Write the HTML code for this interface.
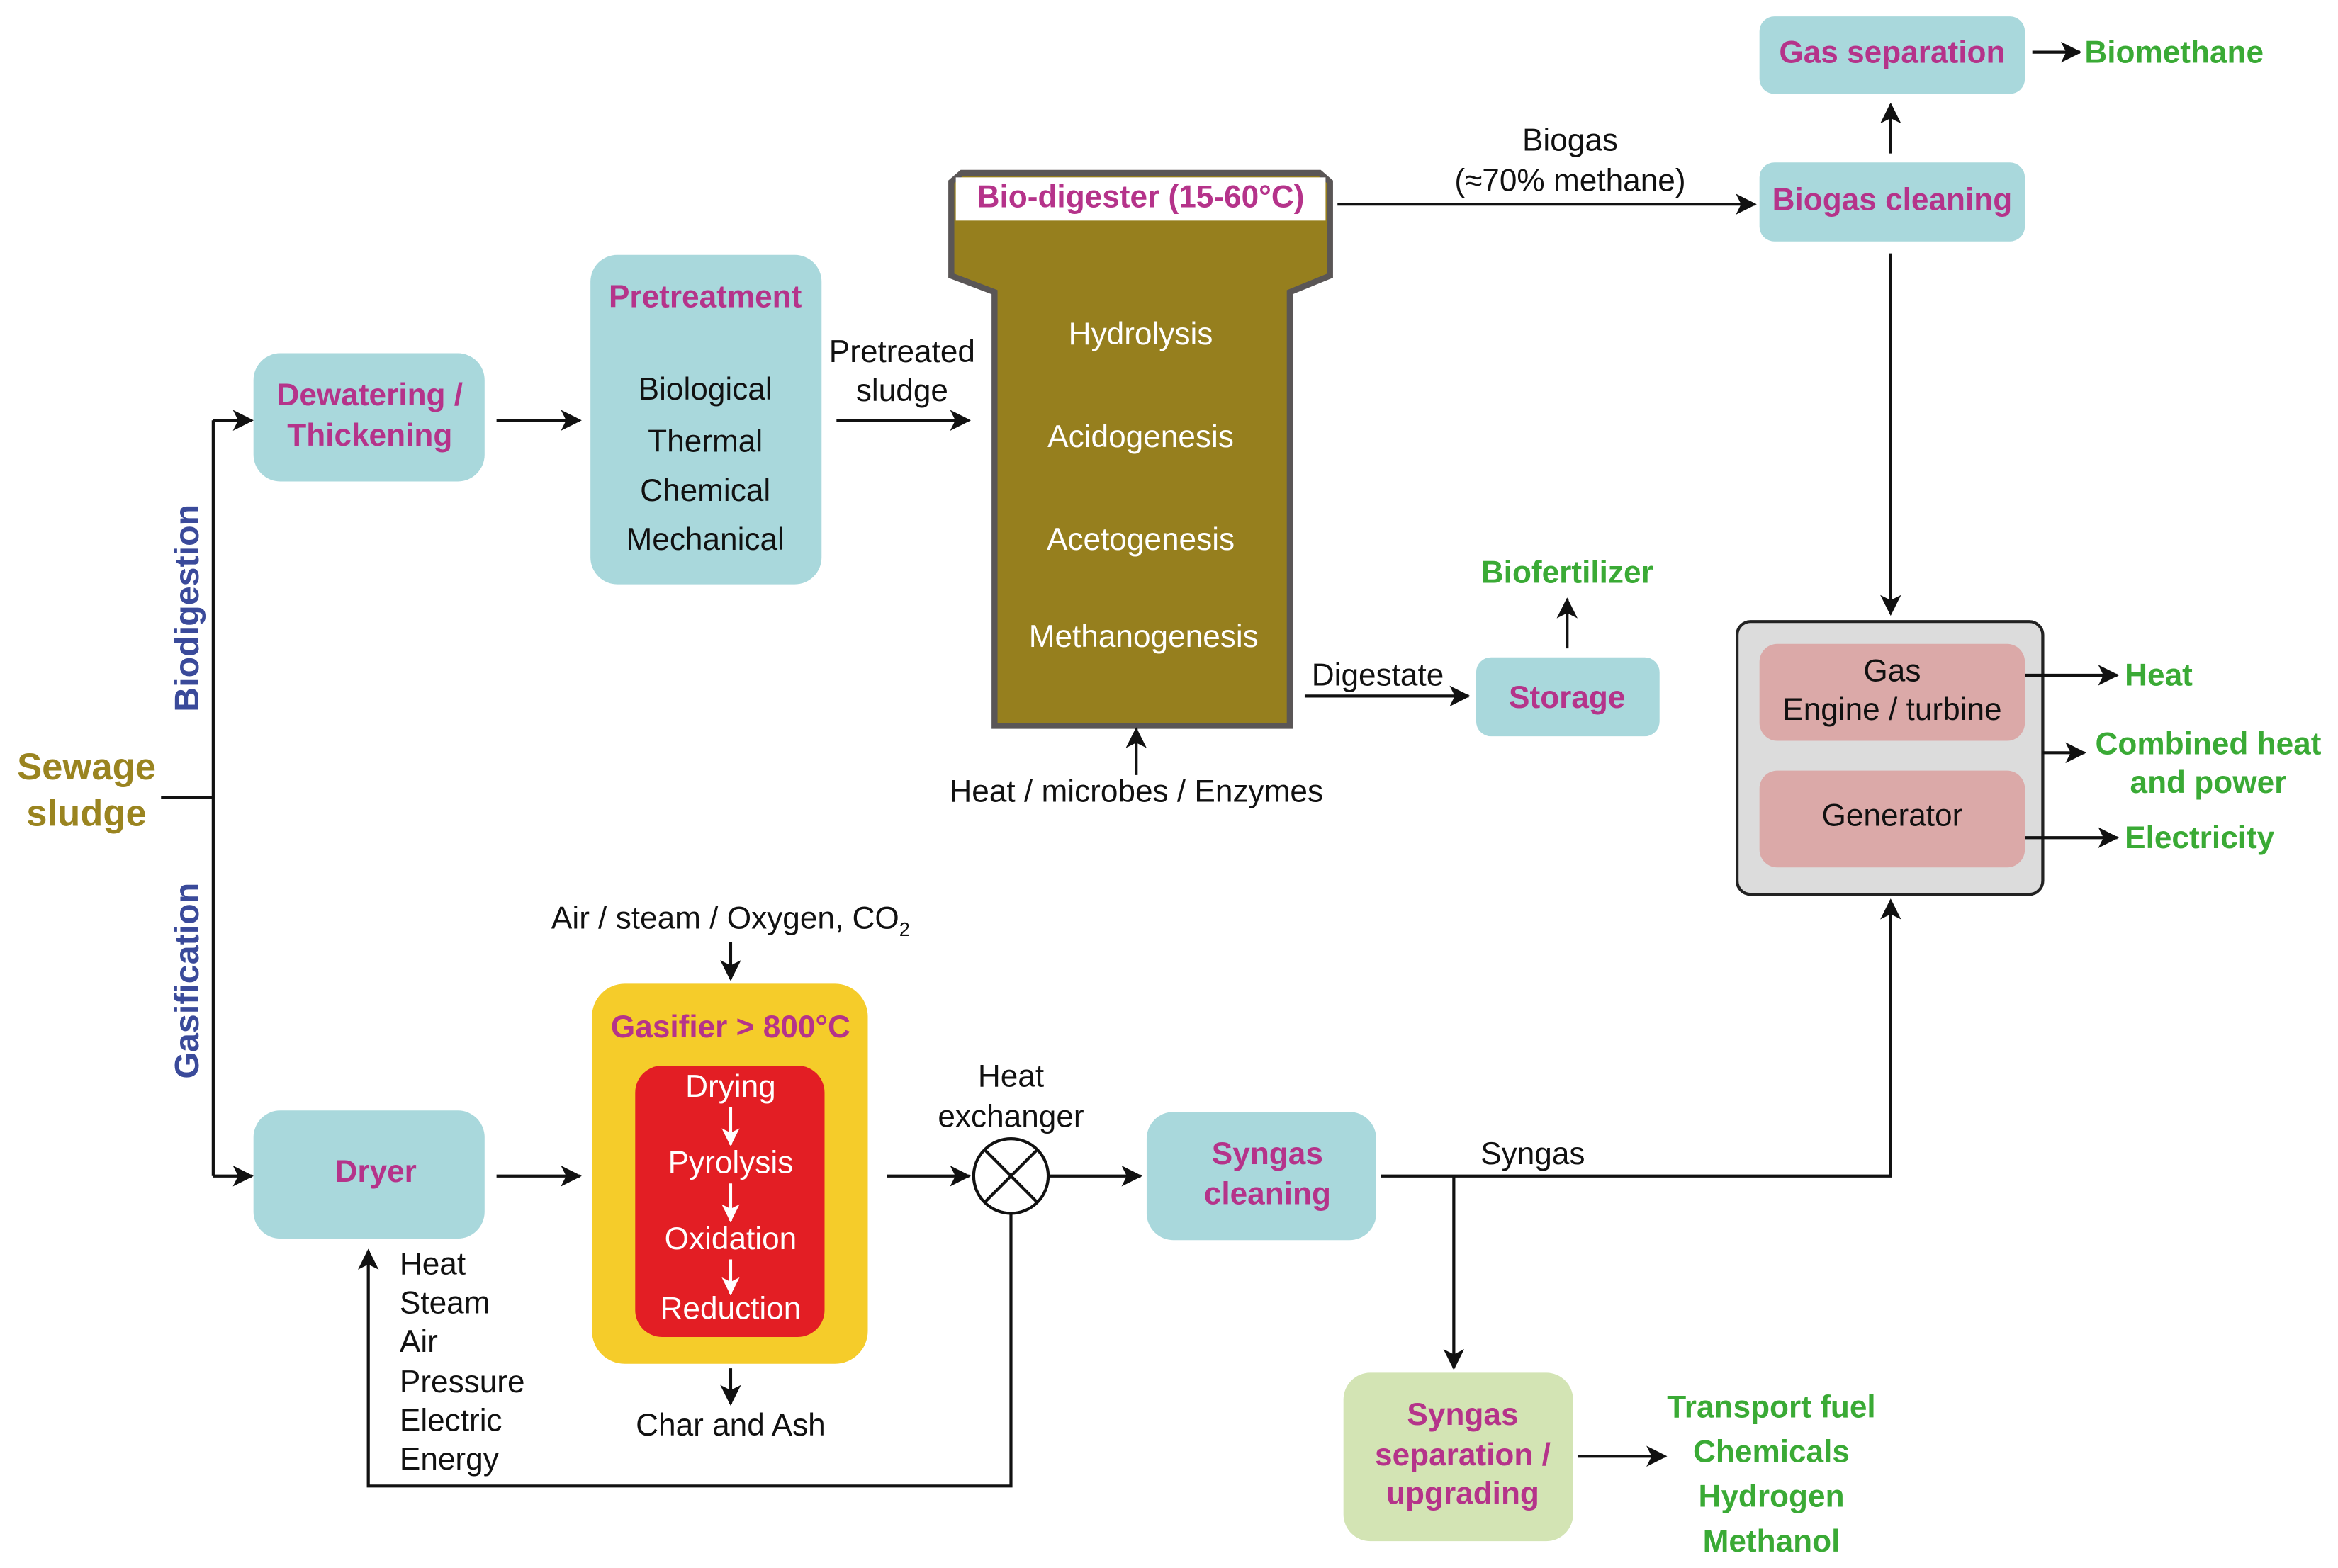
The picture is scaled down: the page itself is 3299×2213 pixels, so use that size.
<!DOCTYPE html>
<html><head><meta charset="utf-8"><style>
html,body{margin:0;padding:0;background:#fff}
svg{display:block}
text{font-family:"Liberation Sans",Arial,sans-serif}
.t{font-size:21px;fill:#111;text-anchor:middle}
.m{font-size:21px;fill:#b5338a;font-weight:bold;text-anchor:middle}
.g{font-size:21px;fill:#3aaa35;font-weight:bold}
.w{font-size:21px;fill:#fff;text-anchor:middle}
.ln{stroke:#111;stroke-width:2;fill:none}
</style></head><body>
<svg width="3299" height="2213" viewBox="0 0 1568 1052" preserveAspectRatio="none" xmlns="http://www.w3.org/2000/svg">
<defs>
<marker id="a" viewBox="0 0 12 12" refX="11" refY="6" markerWidth="14" markerHeight="14" markerUnits="userSpaceOnUse" orient="auto"><path d="M0,0 L12,6 L0,12 L3,6 z" fill="#111"/></marker>
<marker id="aw" viewBox="0 0 12 12" refX="11" refY="6" markerWidth="12" markerHeight="12" markerUnits="userSpaceOnUse" orient="auto"><path d="M0,0 L12,6 L0,12 L3,6 z" fill="#fff"/></marker>
</defs>

<text x="58" y="523" style="font-size:25px;font-weight:bold;fill:#9a8420" text-anchor="middle">Sewage</text>
<text x="58" y="554" style="font-size:25px;font-weight:bold;fill:#9a8420" text-anchor="middle">sludge</text>
<path class="ln" d="M108,535 H143 M143,282 V789"/>
<path class="ln" d="M143,282 H169" marker-end="url(#a)"/>
<path class="ln" d="M143,789 H169" marker-end="url(#a)"/>
<text transform="translate(133,408) rotate(-90)" style="font-size:23px;font-weight:bold;fill:#3a4a9a" text-anchor="middle">Biodigestion</text>
<text transform="translate(133,658) rotate(-90)" style="font-size:23px;font-weight:bold;fill:#3a4a9a" text-anchor="middle">Gasification</text>

<rect x="170" y="237" width="155" height="86" rx="18" fill="#a9d8dc"/>
<text class="m" x="248" y="272">Dewatering /</text>
<text class="m" x="248" y="299">Thickening</text>
<path class="ln" d="M333,282 H389" marker-end="url(#a)"/>

<rect x="396" y="171" width="155" height="221" rx="18" fill="#a9d8dc"/>
<text class="m" x="473" y="206">Pretreatment</text>
<text class="t" x="473" y="268">Biological</text>
<text class="t" x="473" y="303">Thermal</text>
<text class="t" x="473" y="336">Chemical</text>
<text class="t" x="473" y="369">Mechanical</text>
<text class="t" x="605" y="243">Pretreated</text>
<text class="t" x="605" y="269">sludge</text>
<path class="ln" d="M561,282 H650" marker-end="url(#a)"/>

<path d="M645,116 L885,116 L892,122 L892,185 L865,196 L865,487 L667,487 L667,196 L638,185 L638,122 Z" fill="#967f1e" stroke="#5a5656" stroke-width="4"/>
<rect x="641" y="119" width="248" height="29" fill="#fff"/>
<text class="m" x="765" y="139">Bio-digester (15-60°C)</text>
<text class="w" x="765" y="231">Hydrolysis</text>
<text class="w" x="765" y="300">Acidogenesis</text>
<text class="w" x="765" y="369">Acetogenesis</text>
<text class="w" x="767" y="434">Methanogenesis</text>
<path class="ln" d="M762,520 V489" marker-end="url(#a)"/>
<text class="t" x="762" y="538">Heat / microbes / Enzymes</text>

<path class="ln" d="M897,137 H1177" marker-end="url(#a)"/>
<text class="t" x="1053" y="101">Biogas</text>
<text class="t" x="1053" y="128">(≈70% methane)</text>
<rect x="1180" y="109" width="178" height="53" rx="10" fill="#a9d8dc"/>
<text class="m" x="1269" y="141">Biogas cleaning</text>
<rect x="1180" y="11" width="178" height="52" rx="10" fill="#a9d8dc"/>
<text class="m" x="1269" y="42">Gas separation</text>
<path class="ln" d="M1268,103 V70" marker-end="url(#a)"/>
<path class="ln" d="M1363,35 H1395" marker-end="url(#a)"/>
<text class="g" x="1398" y="42">Biomethane</text>
<path class="ln" d="M1268,170 V412" marker-end="url(#a)"/>

<rect x="1165" y="417" width="205" height="183" rx="9" fill="#dcdcdc" stroke="#222" stroke-width="2"/>
<rect x="1180" y="432" width="178" height="65" rx="12" fill="#dba9a8"/>
<text class="t" x="1269" y="457">Gas</text>
<text class="t" x="1269" y="483">Engine / turbine</text>
<rect x="1180" y="517" width="178" height="65" rx="12" fill="#dba9a8"/>
<text class="t" x="1269" y="554">Generator</text>
<path class="ln" d="M1358,453 H1420" marker-end="url(#a)"/>
<text class="g" x="1425" y="460">Heat</text>
<path class="ln" d="M1370,505 H1398" marker-end="url(#a)"/>
<text class="g" x="1481" y="506" text-anchor="middle">Combined heat</text>
<text class="g" x="1481" y="532" text-anchor="middle">and power</text>
<path class="ln" d="M1358,562 H1420" marker-end="url(#a)"/>
<text class="g" x="1425" y="569">Electricity</text>

<path class="ln" d="M875,467 H985" marker-end="url(#a)"/>
<text class="t" x="924" y="460">Digestate</text>
<rect x="990" y="441" width="123" height="53" rx="10" fill="#a9d8dc"/>
<text class="m" x="1051" y="475">Storage</text>
<path class="ln" d="M1051,435 V402" marker-end="url(#a)"/>
<text class="g" x="1051" y="391" text-anchor="middle">Biofertilizer</text>

<text class="t" x="490" y="623">Air / steam / Oxygen, CO<tspan style="font-size:13px" dy="5">2</tspan></text>
<path class="ln" d="M490,632 V657" marker-end="url(#a)"/>
<rect x="397" y="660" width="185" height="255" rx="22" fill="#f5cc2a"/>
<text class="m" x="490" y="696">Gasifier &gt; 800°C</text>
<rect x="426" y="715" width="127" height="182" rx="18" fill="#e31e24"/>
<text class="w" x="490" y="736">Drying</text>
<path d="M490,743 V768" stroke="#fff" stroke-width="2" marker-end="url(#aw)"/>
<text class="w" x="490" y="787">Pyrolysis</text>
<path d="M490,794 V819" stroke="#fff" stroke-width="2" marker-end="url(#aw)"/>
<text class="w" x="490" y="838">Oxidation</text>
<path d="M490,845 V868" stroke="#fff" stroke-width="2" marker-end="url(#aw)"/>
<text class="w" x="490" y="885">Reduction</text>
<path class="ln" d="M490,918 V942" marker-end="url(#a)"/>
<text class="t" x="490" y="963">Char and Ash</text>

<rect x="170" y="745" width="155" height="86" rx="18" fill="#a9d8dc"/>
<text class="m" x="252" y="793">Dryer</text>
<path class="ln" d="M333,789 H389" marker-end="url(#a)"/>
<path class="ln" d="M595,789 H650" marker-end="url(#a)"/>
<circle cx="678" cy="789" r="25" fill="#fff" stroke="#111" stroke-width="2"/>
<path class="ln" d="M660,771 L696,807 M696,771 L660,807"/>
<text class="t" x="678" y="729">Heat</text>
<text class="t" x="678" y="756">exchanger</text>
<path class="ln" d="M704,789 H765" marker-end="url(#a)"/>
<path class="ln" d="M678,814 V997 H247 V839" marker-end="url(#a)"/>
<g class="t" style="text-anchor:start">
<text x="268" y="855" style="font-size:21px">Heat</text>
<text x="268" y="881" style="font-size:21px">Steam</text>
<text x="268" y="907" style="font-size:21px">Air</text>
<text x="268" y="934" style="font-size:21px">Pressure</text>
<text x="268" y="960" style="font-size:21px">Electric</text>
<text x="268" y="986" style="font-size:21px">Energy</text>
</g>

<rect x="769" y="746" width="154" height="86" rx="18" fill="#a9d8dc"/>
<text class="m" x="850" y="781">Syngas</text>
<text class="m" x="850" y="808">cleaning</text>
<path class="ln" d="M926,789 H1268 V604" marker-end="url(#a)"/>
<text class="t" x="1028" y="781">Syngas</text>
<path class="ln" d="M975,789 V918" marker-end="url(#a)"/>
<rect x="901" y="921" width="154" height="113" rx="18" fill="#d3e4b4"/>
<text class="m" x="981" y="956">Syngas</text>
<text class="m" x="981" y="983">separation /</text>
<text class="m" x="981" y="1009">upgrading</text>
<path class="ln" d="M1058,977 H1117" marker-end="url(#a)"/>
<g class="g" text-anchor="middle">
<text x="1188" y="951">Transport fuel</text>
<text x="1188" y="981">Chemicals</text>
<text x="1188" y="1011">Hydrogen</text>
<text x="1188" y="1041">Methanol</text>
</g>
</svg>
</body></html>
